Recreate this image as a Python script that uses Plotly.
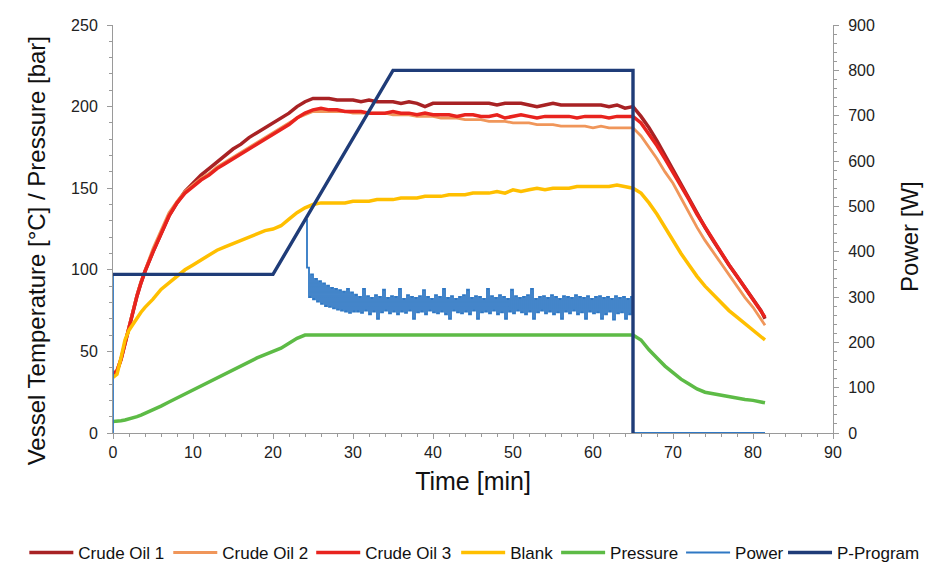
import numpy as np
import plotly.graph_objects as go

# ---------------- data ----------------
t_temp = [0, 0.5, 1, 1.5, 2, 2.5, 3, 3.5, 4, 5, 6, 7, 8, 9, 10, 11, 12, 13, 14, 15,
          16, 17, 18, 19, 20, 21, 22, 23, 24, 25, 26, 27, 28, 29, 30, 31, 32, 33, 34, 35,
          36, 37, 38, 39, 40, 41, 42, 43, 44, 45, 46, 47, 48, 49, 50, 51, 52, 53, 54, 55,
          56, 57, 58, 59, 60, 61, 62, 63, 64, 65, 66, 67, 68, 69, 70, 71, 72, 73, 74, 75,
          76, 77, 78, 79, 80, 81, 81.5]

crude_oil_1 = [36, 38, 45, 55, 65, 75, 84, 92, 99, 111, 122, 133, 141, 148, 153, 158, 162, 166, 170, 174,
               177, 181, 184, 187, 190, 193, 196, 200, 203, 205, 205, 205, 204, 204, 204, 203, 204, 203, 203, 203,
               202, 203, 202, 200, 202, 202, 202, 202, 202, 202, 202, 202, 201, 202, 202, 202, 201, 200, 201, 202,
               201, 201, 201, 201, 201, 201, 200, 201, 199, 200, 194, 187, 179, 170, 161, 152, 143, 134, 126, 118,
               110, 103, 96, 89, 82, 75, 70]

crude_oil_2 = [36, 39, 46, 56, 66, 76, 85, 93, 100, 113, 124, 135, 142, 148, 152, 156, 159, 163, 166, 169,
               172, 175, 178, 181, 184, 187, 190, 193, 195, 197, 197, 197, 197, 197, 196, 196, 196, 196, 196, 195,
               195, 195, 194, 194, 194, 193, 193, 193, 192, 192, 192, 191, 191, 191, 190, 190, 190, 189, 189, 189,
               188, 188, 188, 188, 187, 188, 187, 187, 187, 187, 182, 175, 168, 160, 153, 144, 135, 126, 118, 111,
               104, 97, 90, 83, 77, 70, 66]

crude_oil_3 = [36, 38, 45, 55, 65, 75, 84, 92, 99, 111, 122, 133, 141, 147, 151, 155, 158, 162, 165, 168,
               171, 174, 177, 180, 183, 186, 189, 193, 196, 198, 199, 198, 198, 197, 197, 197, 196, 196, 196, 197,
               196, 196, 195, 196, 195, 195, 195, 194, 195, 195, 194, 194, 195, 193, 194, 195, 194, 193, 194, 194,
               194, 194, 193, 194, 194, 194, 193, 194, 194, 194, 190, 183, 176, 168, 160, 151, 143, 134, 126, 118,
               110, 103, 96, 89, 82, 75, 71]

blank = [34, 36, 46, 57, 63, 67, 71, 74, 77, 82, 88, 92, 96, 100, 103, 106, 109, 112, 114, 116,
         118, 120, 122, 124, 125, 127, 131, 135, 138, 140, 141, 141, 141, 141, 142, 142, 142, 143, 143, 143,
         144, 144, 144, 145, 145, 145, 146, 146, 146, 147, 147, 147, 148, 147, 149, 148, 149, 150, 149, 150,
         150, 150, 151, 151, 151, 151, 151, 152, 151, 150, 147, 141, 134, 126, 117, 110, 103, 96, 90, 85,
         80, 75, 71, 67, 63, 59, 57]

pressure = [7, 7, 7.5, 8, 8.5, 9, 10, 11, 12, 14, 16.5, 19, 21.5, 24, 26.5, 29, 31.5, 34, 36.5, 39,
            41, 43.5, 46, 48, 50, 52, 55, 58, 60, 60, 60, 60, 60, 60, 60, 60, 60, 60, 60, 60,
            60, 60, 60, 60, 60, 60, 60, 60, 60, 60, 60, 60, 60, 60, 60, 60, 60, 60, 60, 60,
            60, 60, 60, 60, 60, 60, 60, 60, 60, 60, 57, 51, 46, 41, 37, 33, 30, 27, 25, 24,
            23, 22, 21, 20.5, 20, 19, 18.5]

# P-Program (power set-point, W)
pprog_t = [0, 20, 35, 65, 65]
pprog_w = [350, 350, 800, 800, 0]

# Measured power (W): start segment (follows the program), noisy band sampled every 0.25 min, end segment
power_start_t = [0, 0, 20, 24]
power_start_w = [0, 350, 350, 470]
power_band = [365, 300, 350, 295, 340, 290, 335, 285,
              330, 280, 325, 278, 320, 275, 318, 272, 315, 270, 312, 268, 318, 265, 310, 268,
              305, 268, 300, 265, 318, 270, 302, 262, 298, 268,
              304, 252, 300, 266, 316, 270, 298, 264, 302, 268,
              300, 262, 318, 268, 296, 265, 304, 270, 300, 252,
              298, 266, 302, 268, 315, 262, 300, 270, 296, 266,
              304, 264, 300, 268, 318, 262, 298, 252, 302, 270,
              296, 266, 300, 264, 304, 268, 316, 262, 298, 270,
              302, 252, 300, 266, 296, 268, 318, 264, 302, 270,
              298, 262, 304, 266, 300, 252, 296, 268, 316, 264,
              302, 270, 298, 266, 300, 262, 304, 268, 318, 252,
              296, 266, 300, 270, 302, 264, 298, 268, 304, 262,
              300, 266, 296, 252, 302, 268, 300, 264, 298, 270,
              304, 262, 300, 266, 298, 252, 302, 268, 296, 264,
              300, 266, 302, 252, 298, 262, 300, 268, 296, 250,
              302, 264, 298, 266, 300, 252, 296, 262, 300]
power_end_t = [65, 65, 81.5]
power_end_w = [280, 0, 0]

band_t = list(24.25 + 0.25 * np.arange(len(power_band)))

# ---------------- figure ----------------
FONT = "Liberation Sans, Arial, sans-serif"
fig = go.Figure()

def add_line(x, y, name, color, width, legend, yaxis="y", shape="linear", showlegend=True, group=None):
    fig.add_trace(go.Scatter(x=x, y=y, name=name, mode="lines", yaxis=yaxis,
                             line=dict(color=color, width=width, shape=shape),
                             legend=legend, showlegend=showlegend,
                             legendgroup=group or name))

add_line(t_temp, crude_oil_1, "Crude Oil 1", "#A82224", 3.5, "legend")
add_line(t_temp, crude_oil_2, "Crude Oil 2", "#F0965A", 2.8, "legend2")
add_line(t_temp, crude_oil_3, "Crude Oil 3", "#E8231E", 3.5, "legend3")
add_line(t_temp, blank, "Blank", "#FFBF00", 3.5, "legend4")
add_line(t_temp, pressure, "Pressure", "#5DBB46", 3.5, "legend5")
add_line(power_start_t, power_start_w, "Power", "#2F78C4", 1.8, "legend6", yaxis="y2",
         showlegend=False, group="Power")
add_line([power_start_t[-1]] + band_t + power_end_t,
         [power_start_w[-1]] + power_band + power_end_w,
         "Power", "#2F78C4", 1.8, "legend6", yaxis="y2", shape="hv", group="Power")
add_line(pprog_t, pprog_w, "P-Program", "#1F3C78", 3.4, "legend7", yaxis="y2")

axis_common = dict(showgrid=False, zeroline=False, showline=True, linecolor="#9a9a9a",
                   linewidth=1, ticks="outside", tickcolor="#9a9a9a", ticklen=5,
                   automargin=False,
                   tickfont=dict(family=FONT, size=16, color="#222222"))

# page body adds an 8px offset, so the figure is 8px smaller and shifted
W, H = 934, 555
L, R = 104.7, 825.0
T, B = 17, 425
PW = R - L
PH = B - T
ITEMW = 44

def leg(text_start_px):
    return dict(orientation="h", x=(text_start_px - 8 - (ITEMW + 10) - L) / PW, xanchor="left",
                y=-0.294, yanchor="middle", bgcolor="rgba(0,0,0,0)",
                font=dict(family=FONT, size=17, color="#111111"), itemwidth=ITEMW)

text_starts = [78, 222, 365, 510, 610, 735, 837]

layout_legends = {}
for i, ts in enumerate(text_starts):
    key = "legend" if i == 0 else f"legend{i + 1}"
    layout_legends[key] = leg(ts)

# axis titles as rotated annotations (placed as in the reference)
title_font = dict(family=FONT, size=24, color="#111111")
annotations = [
    dict(text="Vessel Temperature [°C] / Pressure [bar]", textangle=-90, showarrow=False,
         xref="paper", yref="paper", x=(36 - 8 - L) / PW, y=(B - (251 - 8)) / PH,
         xanchor="center", yanchor="middle", font=title_font),
    dict(text="Power [W]", textangle=-90, showarrow=False,
         xref="paper", yref="paper", x=(910 - 8 - L) / PW, y=(B - (236 - 8)) / PH,
         xanchor="center", yanchor="middle", font=title_font),
]

fig.update_layout(
    width=W, height=H,
    margin=dict(l=L, r=W - R, t=T, b=H - B, autoexpand=False),
    paper_bgcolor="white", plot_bgcolor="white",
    font=dict(family=FONT, color="#111111"),
    xaxis=dict(range=[0, 90], dtick=10, ticklabelstandoff=0,
               title=dict(text="Time [min]", font=dict(size=25), standoff=12),
               minor=dict(dtick=2, ticks="outside", ticklen=3, tickcolor="#9a9a9a"), **axis_common),
    yaxis=dict(range=[0, 250], dtick=50, ticklabelstandoff=6,
               minor=dict(dtick=10, ticks="outside", ticklen=3, tickcolor="#9a9a9a"), **axis_common),
    yaxis2=dict(range=[0, 900], dtick=100, overlaying="y", side="right", ticklabelstandoff=6,
                minor=dict(dtick=20, ticks="outside", ticklen=3, tickcolor="#9a9a9a"), **axis_common),
    annotations=annotations,
    showlegend=True,
    **layout_legends,
)

fig.write_html("out.html")
